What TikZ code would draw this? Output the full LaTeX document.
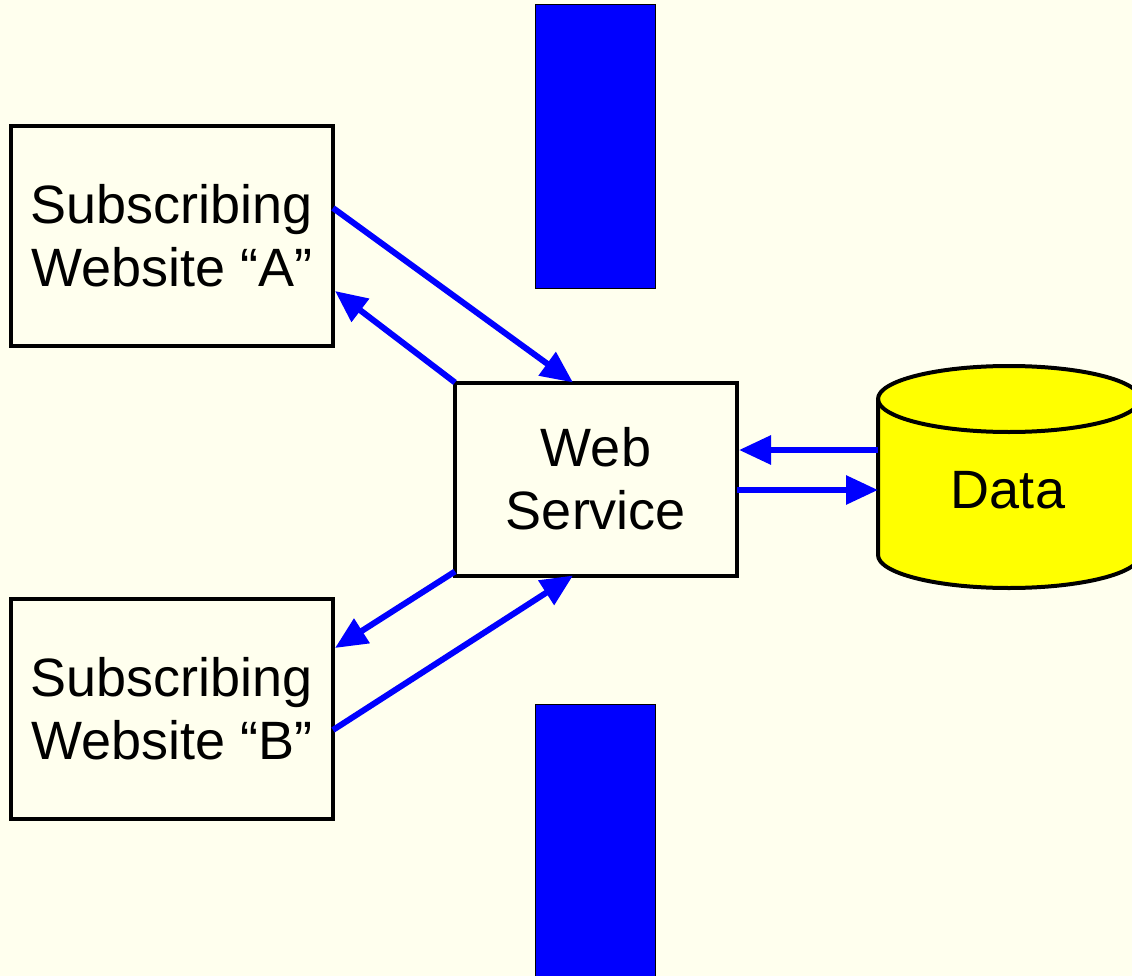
\documentclass[tikz,border=0pt]{standalone}
\usepackage{fontspec}
\setmainfont{Liberation Sans}
\usetikzlibrary{arrows.meta}
\definecolor{bgcol}{HTML}{FFFFEE}
\definecolor{barblue}{HTML}{0000FF}
\definecolor{datayellow}{HTML}{FFFF00}
\tikzset{
  box/.style={draw=black, line width=4pt, fill=bgcol, rectangle, outer sep=0pt,
    inner sep=0pt, align=center, font=\fontsize{54}{63}\selectfont},
  flow/.style={draw=barblue, line width=6pt, -{Triangle[length=32pt,width=28pt]}},
  bar/.style={draw=black, line width=0.8pt, fill=barblue},
}
\begin{document}
\begin{tikzpicture}[x=1pt,y=-1pt]
\useasboundingbox (0,0) rectangle (1132,976);
\clip (0,0) rectangle (1132,976);
\fill[bgcol] (0,0) rectangle (1132,976);
% blue bars
\path[bar] (535.5,4.5) rectangle (655.5,288);
\path[bar] (535.5,704) rectangle (655.5,980);
% cylinder
\path[draw=black, line width=4pt, fill=datayellow]
  (878,399) -- (878,555) arc[start angle=180, end angle=0, x radius=131, y radius=33]
  -- (1140,399) arc[start angle=0, end angle=-180, x radius=131, y radius=33] -- cycle;
\draw[line width=4pt] (878,399) arc[start angle=180, end angle=0, x radius=131, y radius=33];
\node[font=\fontsize{54}{63}\selectfont] (data) at (1008,490) {Data};
\coordinate (din) at (878,490);
\coordinate (dout) at (878,450);
% boxes
\node[box, minimum width=322pt, minimum height=220pt] (A) at (172,236) {Subscribing\\Website “A”};
\node[box, minimum width=322pt, minimum height=220pt] (B) at (172,709) {Subscribing\\Website “B”};
\node[box, minimum width=282pt, minimum height=193pt] (WS) at (596,479) {Web\\Service};
% connectors
\draw[flow] ([yshift=28pt]A.east) -- ([xshift=-23pt]WS.north);
\draw[flow] (WS.north west) -- ([xshift=2pt,yshift=-55pt]A.east);
\draw[flow] ([yshift=4pt]WS.south west) -- ([xshift=2pt,yshift=61pt]B.east);
\draw[flow] ([yshift=-21pt]B.east) -- ([xshift=-23pt]WS.south);
\draw[flow] (dout) -- ([xshift=2pt,yshift=29pt]WS.east);
\draw[flow] ([yshift=-11pt]WS.east) -- (din);
\end{tikzpicture}
\end{document}
